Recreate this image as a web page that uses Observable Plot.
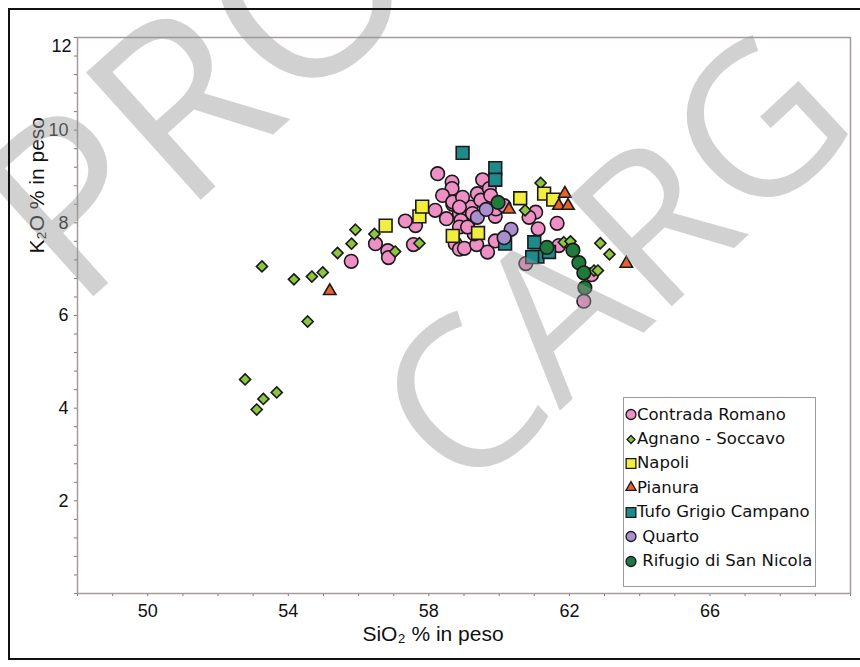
<!DOCTYPE html>
<html>
<head>
<meta charset="utf-8">
<script src="https://cdn.jsdelivr.net/npm/d3@7"></script>
<script src="https://cdn.jsdelivr.net/npm/@observablehq/plot@0.6"></script>
<style>
  html, body { margin: 0; padding: 0; background: #fff; }
  #wrap { position: relative; width: 860px; height: 667px; overflow: hidden; }
  #border { position: absolute; left: 8px; top: 8px; width: 870px; height: 652px; border: 2px solid #111; box-sizing: border-box; }
  #wm { position: absolute; left: 0; top: 0; pointer-events: none; }
  #legend { position: absolute; left: 623px; top: 397px; width: 193px; height: 190px; border: 1px solid #9a9a9a; background: #fff; box-sizing: border-box; padding-top: 4px; font-family: "DejaVu Sans", sans-serif; font-size: 16.5px; color: #111; }
  .row { height: 24.4px; display: flex; align-items: center; white-space: pre; }
  .row svg { margin-left: 1px; }
</style>
</head>
<body>
<div id="wrap"></div>
<script>
// ---- data (SiO2 %, K2O %) ----
const seriesNames = ["Contrada Romano", "Agnano - Soccavo", "Napoli", "Pianura", "Tufo Grigio Campano", "Quarto", "Rifugio di San Nicola"];

const romanoSiO2 = [55.79,56.48,56.83,56.85,57.56,57.62,57.33,58.18,58.50,58.68,58.87,58.96,59.20,58.75,58.87,59.01,59.36,59.67,59.15,59.29,58.25,58.66,58.66,59.53,58.39,58.68,58.96,59.38,59.48,59.72,59.76,58.87,59.24,58.91,58.87,59.10,59.89,59.91,60.14,61.04,61.11,61.65,60.85,59.89,60.76,61.70,62.63,62.41];
const romanoK2O  = [7.17,7.55,7.40,7.25,7.53,7.94,8.04,8.27,8.09,8.40,8.20,7.94,8.34,7.55,7.43,7.45,7.53,7.37,8.05,7.76,9.06,8.88,8.74,8.93,8.59,8.45,8.55,8.63,8.49,8.74,8.59,8.34,8.20,8.05,7.91,7.91,8.14,8.30,8.37,8.23,7.87,7.99,8.12,7.61,7.12,7.51,6.88,6.31];

const agnanoSiO2 = [52.77,53.10,53.29,53.67,53.25,54.16,54.67,54.98,54.55,55.40,55.80,55.91,56.45,57.04,57.73,61.18,60.74,61.84,62.03,62.88,63.14,62.70,62.81];
const agnanoK2O  = [4.62,3.97,4.20,4.34,7.06,6.78,6.84,6.93,5.87,7.35,7.55,7.85,7.76,7.38,7.56,8.86,8.27,7.58,7.60,7.56,7.32,6.97,6.97];

const napoliSiO2 = [56.77,57.73,57.81,58.68,59.40,60.60,61.28,61.54];
const napoliK2O  = [7.94,8.14,8.35,7.72,7.78,8.53,8.63,8.50];

const pianuraSiO2 = [55.18,60.28,61.87,61.70,61.96,63.62];
const pianuraK2O  = [6.53,8.29,8.63,8.37,8.37,7.12];

const tufoSiO2 = [58.96,59.89,59.89,60.17,61.00,61.09,60.94,61.42];
const tufoK2O  = [9.51,9.18,8.93,7.55,7.58,7.27,7.26,7.37];

const quartoSiO2 = [59.38,59.63,60.34,60.14];
const quartoK2O  = [8.12,8.29,7.86,7.68];

const rifugioSiO2 = [59.97,61.36,62.10,62.27,62.41,62.44];
const rifugioK2O  = [8.44,7.47,7.41,7.14,6.92,6.60];

const xTickLabels = [50, 54, 58, 62, 66];
const yTickLabels = [2, 4, 6, 8, 10];
const yTopLabel = [12];
const xTitle = "SiO₂ % in peso";
const yTitle = "K₂O % in peso";

// ---- styling per series ----
const fills   = ["#ee8fc6", "#8cc63f", "#f2ee40", "#e8632a", "#1e8a8c", "#aa8fd0", "#1f7a3c"];
const symbols = [d3.symbolCircle, d3.symbolDiamond2, d3.symbolSquare, d3.symbolTriangle, d3.symbolSquare, d3.symbolCircle, d3.symbolCircle];
const radii   = [6.8, 5.0, 7.2, 4.6, 7.2, 6.8, 6.8];

const allX = [romanoSiO2, agnanoSiO2, napoliSiO2, pianuraSiO2, tufoSiO2, quartoSiO2, rifugioSiO2];
const allY = [romanoK2O, agnanoK2O, napoliK2O, pianuraK2O, tufoK2O, quartoK2O, rifugioK2O];

const dotMarks = seriesNames.map((name, i) =>
  Plot.dot(allX[i].map((x, j) => ({series: name, x, y: allY[i][j]})), {
    x: "x", y: "y", r: radii[i], symbol: () => symbols[i], fill: fills[i],
    stroke: "#1a1a1a", strokeWidth: 1.6
  })
);

const minorX = d3.range(48, 71, 1);
const minorY = d3.range(0, 12.01, 0.4);

const chart = Plot.plot({
  width: 860, height: 667,
  marginLeft: 77, marginRight: 10, marginTop: 37, marginBottom: 74,
  style: {fontFamily: "Liberation Sans, Arial, sans-serif", fontSize: "18px", background: "transparent", color: "#111"},
  x: {domain: [48, 70]},
  y: {domain: [0, 12]},
  symbol: {type: "identity"},
  marks: [
    Plot.axisX({ticks: minorX, tickSize: 3, tickFormat: () => "", label: null, stroke: "#777"}),
    Plot.axisY({ticks: minorY, tickSize: 3, tickFormat: () => "", label: null, stroke: "#777"}),
    Plot.axisX({ticks: xTickLabels, tickSize: 0, tickPadding: 11, fontSize: 18, label: null}),
    Plot.axisY({ticks: yTickLabels, tickSize: 0, tickPadding: 9, fontSize: 18, label: null}),
    Plot.axisY({ticks: yTopLabel, tickSize: 0, tickPadding: 6, fontSize: 18, label: null, dy: 9}),
    ...dotMarks,
    Plot.frame({stroke: "#a39a9a", strokeWidth: 1.5}),
    Plot.text([xTitle], {text: d => d, frameAnchor: "bottom", dx: -31, dy: 47, fontSize: 21, fill: "#111"}),
    Plot.text([yTitle], {text: d => d, frameAnchor: "left", dx: -40, dy: -62, rotate: -90, fontSize: 21, fill: "#111"})
  ]
});

const wrap = document.getElementById("wrap");
wrap.appendChild(chart);

// watermark overlay
const wm = d3.select(wrap).append("svg").attr("id", "wm").attr("width", 860).attr("height", 667);
const wmStyle = s => s.attr("font-family", "Open Sans, DejaVu Sans, sans-serif").attr("fill", "#9a9a9a").attr("fill-opacity", 0.45);
wm.append("text").text("PRO").attr("transform", "translate(76,312) rotate(-42)").attr("font-size", 240).call(wmStyle);
wm.append("text").text("CARG").attr("transform", "translate(463,501) rotate(-43)").attr("font-size", 210).call(wmStyle);

// border
const border = document.createElement("div");
border.id = "border";
wrap.appendChild(border);

// legend
const legend = document.createElement("div");
legend.id = "legend";
const lgSym = [d3.symbolCircle, d3.symbolDiamond2, d3.symbolSquare, d3.symbolTriangle, d3.symbolSquare, d3.symbolCircle, d3.symbolCircle];
const lgSize = [78, 40, 95, 45, 95, 78, 78];
seriesNames.forEach((name, i) => {
  const row = document.createElement("div");
  row.className = "row";
  const s = d3.create("svg").attr("width", 12).attr("height", 14);
  s.append("path").attr("d", d3.symbol(lgSym[i], lgSize[i])()).attr("transform", "translate(6,7.5)")
    .attr("fill", fills[i]).attr("stroke", "#1a1a1a").attr("stroke-width", 1.3);
  row.appendChild(s.node());
  const t = document.createElement("span");
  t.textContent = (i >= 5 ? " " : "") + name;
  row.appendChild(t);
  legend.appendChild(row);
});
wrap.appendChild(legend);
</script>
</body>
</html>
